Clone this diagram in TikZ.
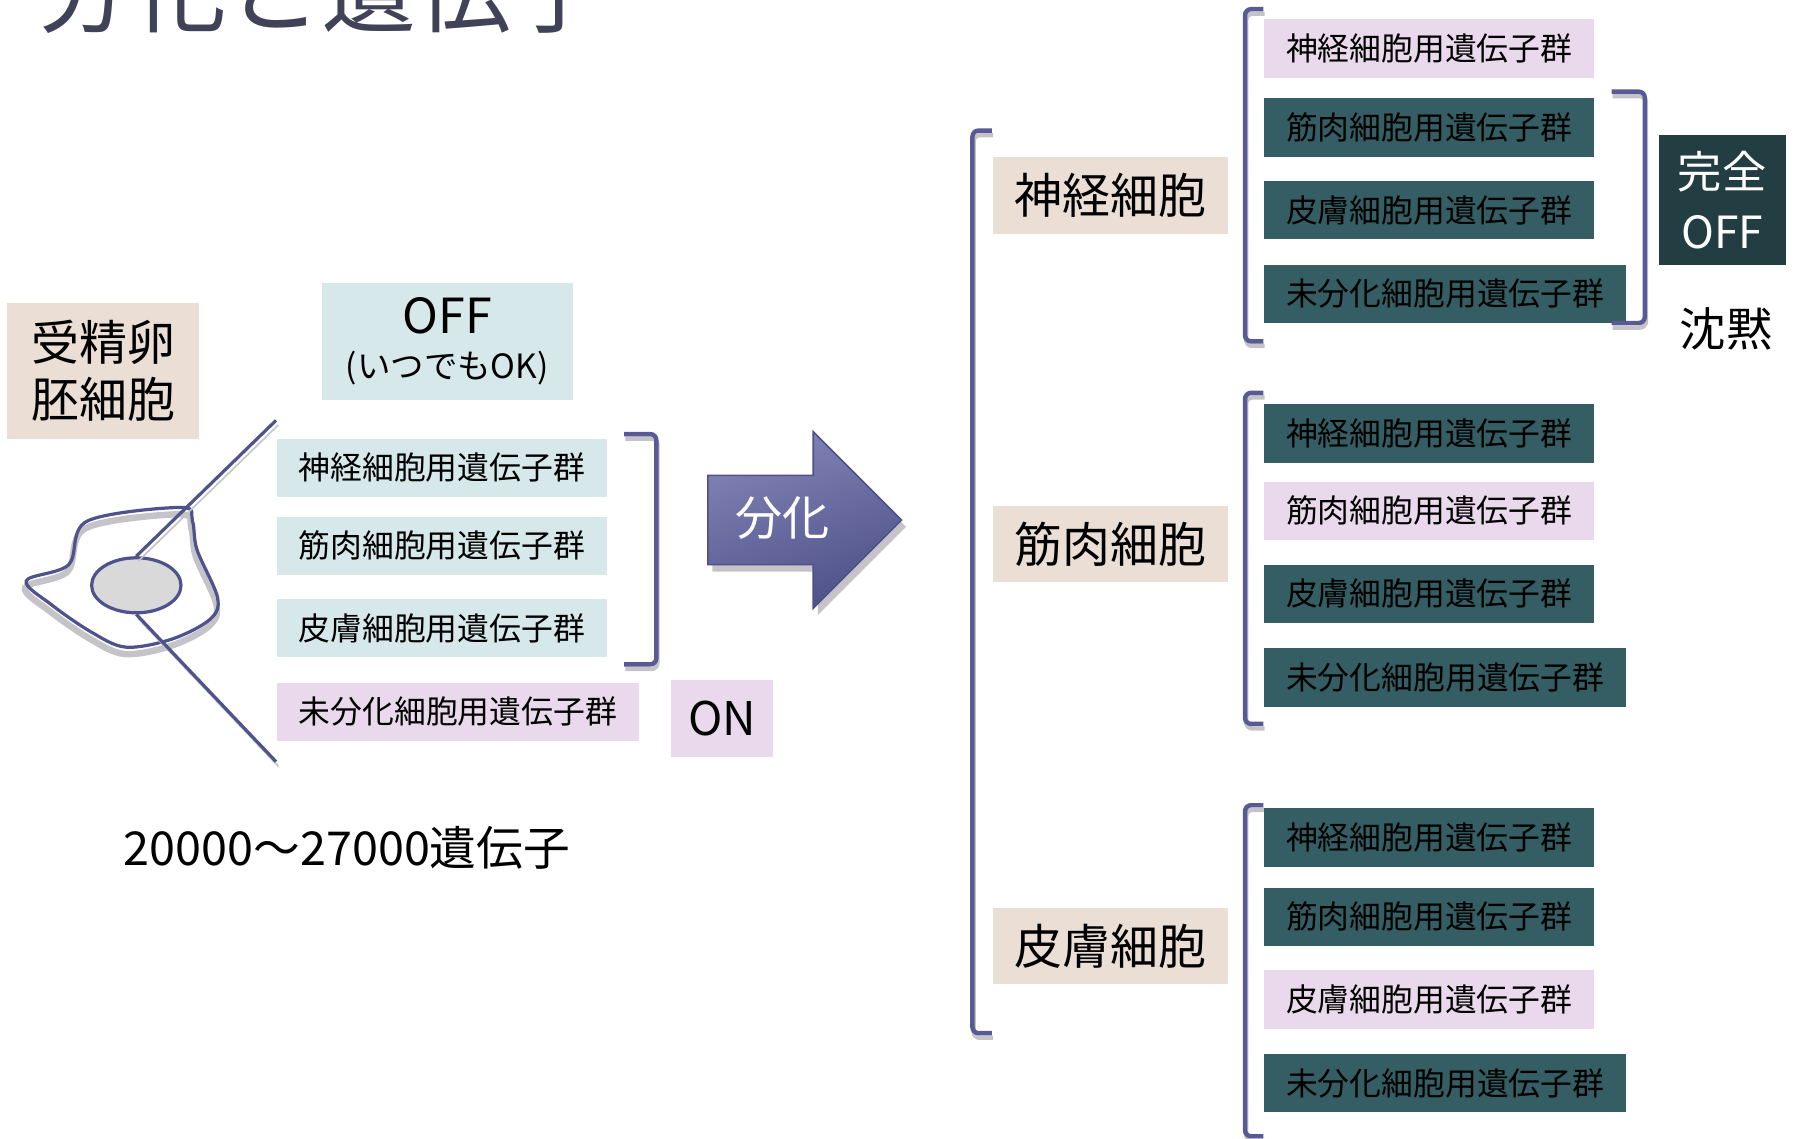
\documentclass[tikz,border=0pt]{standalone}
\usepackage{fontspec}
\setmainfont{Noto Sans CJK JP}
\usepackage{tikz}
\usetikzlibrary{shapes.geometric}
\definecolor{titlegray}{RGB}{64, 66, 87}
\definecolor{cellbeige}{RGB}{234, 222, 213}
\definecolor{genecyan}{RGB}{214, 232, 234}
\definecolor{genepink}{RGB}{234, 217, 236}
\definecolor{geneteal}{RGB}{52, 94, 99}
\definecolor{offdark}{RGB}{34, 62, 66}
\definecolor{bracketblue}{RGB}{88, 90, 150}
\definecolor{lineblue}{RGB}{80, 82, 140}
\definecolor{shadowgray}{RGB}{196, 196, 200}
\definecolor{nucleusgray}{RGB}{217, 217, 217}
\definecolor{arrowlight}{RGB}{130, 132, 182}
\definecolor{arrowdark}{RGB}{78, 81, 136}

\begin{document}
\begin{tikzpicture}[x=0.01cm, y=-0.01cm,
    gene/.style={anchor=west, minimum width=2.88cm, minimum height=0.51cm, inner sep=0pt, font=\fontsize{7.9}{9}\selectfont},
    genewide/.style={gene, minimum width=3.16cm},
    geneon/.style={fill=genepink},
    geneoff/.style={fill=geneteal},
    genefree/.style={fill=genecyan},
    cellname/.style={anchor=west, fill=cellbeige, minimum width=2.05cm, minimum height=0.67cm, inner sep=0pt, font=\fontsize{11.9}{14}\selectfont},
    bracket/.style={draw=bracketblue, line width=1.1pt, rounded corners=1.5pt, preaction={draw=shadowgray, line width=1.1pt, transform canvas={shift={(1,4)}}}},
    zoomline/.style={draw=lineblue, line width=0.8pt, preaction={draw=shadowgray, transform canvas={shift={(2,4)}}}}]
        \useasboundingbox (0,0) rectangle (1568,994);
        \clip (0,0) rectangle (1568,994);

        % Heading, cut at the top edge
        \node[anchor=base west, inner sep=0pt, text=titlegray, font=\fontsize{23.6}{24}\selectfont] (title) at (31,22) {分化と遺伝子};

        % Fertilised egg
        \node[fill=cellbeige, minimum width=1.68cm, minimum height=1.18cm, inner sep=0pt, align=center, font=\fontsize{11.9}{14.2}\selectfont] (egg) at (90,324) {受精卵\\胚細胞};
        \node[fill=genecyan, minimum width=2.19cm, minimum height=1.02cm, inner sep=0pt, align=center] (off) at (390.5,298) {\fontsize{12}{12}\selectfont OFF\\[-1pt]\fontsize{8.3}{11}\selectfont (いつでもOK)};

        % Cell outline and nucleus
        \draw[draw=lineblue, line width=0.8pt, preaction={draw=shadowgray, line width=1.6pt, transform canvas={shift={(-1,6)}}}]
            plot[smooth cycle, tension=0.55] coordinates {(23,507) (60,493) (76,455) (158,443) (168,455) (172,480) (190,522) (183,541) (150,558) (110,565) (80,552) (45,528)};
        \node[ellipse, draw=lineblue, fill=nucleusgray, line width=0.8pt, minimum width=0.78cm, minimum height=0.48cm, inner sep=0pt] (nucleus) at (119,511) {};
        \coordinate (lenstop) at (241,367);
        \coordinate (lensbottom) at (241,665);
        \draw[zoomline] (nucleus.north) -- (lenstop);
        \draw[zoomline] (nucleus.south) -- (lensbottom);

        % Genes of the egg
        \node[gene, genefree] (eggnerve) at (241,408.5) {神経細胞用遺伝子群};
        \node[gene, genefree] (eggmuscle) at (241,476.5) {筋肉細胞用遺伝子群};
        \node[gene, genefree] (eggskin) at (241,548.5) {皮膚細胞用遺伝子群};
        \node[genewide, geneon] (eggstem) at (241,621.5) {未分化細胞用遺伝子群};
        \draw[bracket] (545,379) -- (573,379) -- (573,580) -- (545,580);
        \node[fill=genepink, minimum width=0.89cm, minimum height=0.67cm, inner sep=0pt, font=\fontsize{11.5}{12}\selectfont] (on) at (630.5,627.5) {ON};

        \node[font=\fontsize{11.6}{12}\selectfont] (count) at (303,740) {20000～27000遺伝子};

        % Differentiation arrow
        \shade[top color=arrowlight, bottom color=arrowdark, shading angle=20, draw=arrowdark, line width=0.4pt,
            preaction={fill=shadowgray, transform canvas={shift={(4,6)}}}]
            (618,415) -- (710,415) -- (710,377) -- (787,454) -- (710,531) -- (710,493) -- (618,493) -- cycle;
        \node[text=white, font=\fontsize{11.7}{12}\selectfont] (diff) at (683,452) {分化};

        % Differentiated cells
        \draw[bracket] (866,114) -- (849,114) -- (849,902) -- (866,902);
        \node[cellname] (nerve) at (866,170.5) {神経細胞};
        \node[cellname] (muscle) at (866,475) {筋肉細胞};
        \node[cellname] (skin) at (866,826) {皮膚細胞};

        % Nerve cell genes
        \draw[bracket] (1103,8) -- (1087,8) -- (1087,298) -- (1103,298);
        \node[gene, geneon] (nervenerve) at (1103,42.5) {神経細胞用遺伝子群};
        \node[gene, geneoff] (nervemuscle) at (1103,111.5) {筋肉細胞用遺伝子群};
        \node[gene, geneoff] (nerveskin) at (1103,183.5) {皮膚細胞用遺伝子群};
        \node[genewide, geneoff] (nervestem) at (1103,256.5) {未分化細胞用遺伝子群};
        \draw[bracket] (1407,80) -- (1436,80) -- (1436,282) -- (1407,282);
        \node[fill=offdark, text=white, minimum width=1.11cm, minimum height=1.13cm, inner sep=0pt, align=center, font=\fontsize{11}{15}\selectfont] (fulloff) at (1503.5,174.5) {完全\\OFF};
        \node[font=\fontsize{11.5}{12}\selectfont] (silence) at (1507,287) {沈黙};

        % Muscle cell genes
        \draw[bracket] (1103,343) -- (1087,343) -- (1087,632) -- (1103,632);
        \node[gene, geneoff] (musclenerve) at (1103,378.5) {神経細胞用遺伝子群};
        \node[gene, geneon] (musclemuscle) at (1103,446) {筋肉細胞用遺伝子群};
        \node[gene, geneoff] (muscleskin) at (1103,518.5) {皮膚細胞用遺伝子群};
        \node[genewide, geneoff] (musclestem) at (1103,591.5) {未分化細胞用遺伝子群};

        % Skin cell genes
        \draw[bracket] (1103,703) -- (1087,703) -- (1087,992) -- (1103,992);
        \node[gene, geneoff] (skinnerve) at (1103,731) {神経細胞用遺伝子群};
        \node[gene, geneoff] (skinmuscle) at (1103,800.5) {筋肉細胞用遺伝子群};
        \node[gene, geneon] (skinskin) at (1103,872.5) {皮膚細胞用遺伝子群};
        \node[genewide, geneoff] (skinstem) at (1103,945.5) {未分化細胞用遺伝子群};
    \end{tikzpicture}
\end{document}
